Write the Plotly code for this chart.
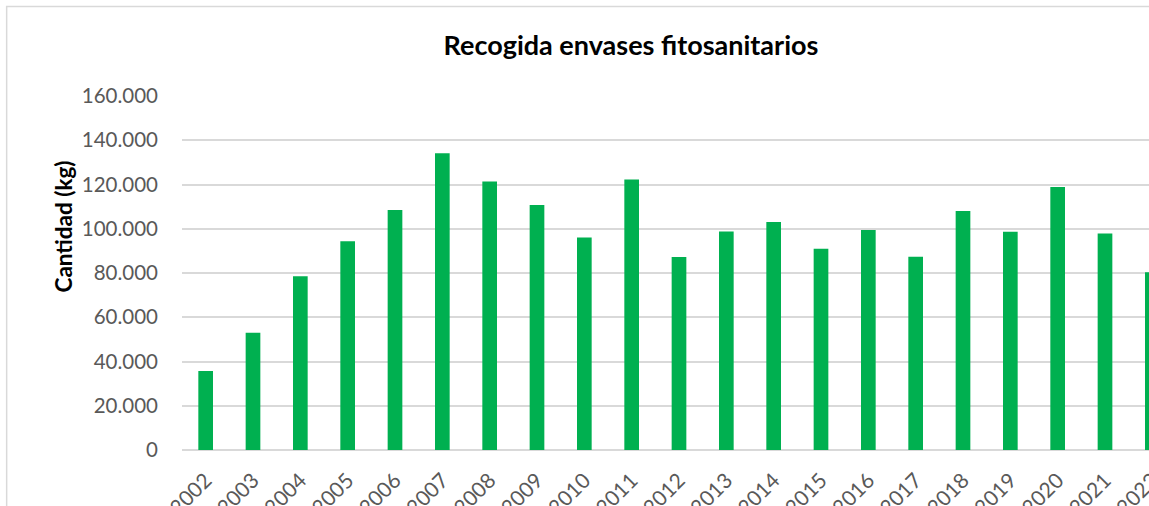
import plotly.graph_objects as go

years = [str(y) for y in range(2002, 2023)]
kg = [35700, 53000, 78500, 94300, 108500, 134100, 121300, 110700, 96100, 122300,
      87200, 98800, 103000, 91000, 99400, 87400, 108000, 98700, 118900, 97900, 80300]
y_ticks = [0, 20000, 40000, 60000, 80000, 100000, 120000, 140000, 160000]
y_tick_text = ["0", "20.000", "40.000", "60.000", "80.000", "100.000", "120.000", "140.000", "160.000"]

FONT = "Lato"
fig = go.Figure()
fig.add_trace(go.Bar(x=years, y=kg, marker=dict(color="#00B050", line=dict(width=0)), width=0.31))

# The chart is wider than the window; the window crops its right side (as in the reference).
fig.update_layout(
    width=1176, height=506,
    margin=dict(l=182, r=0, t=96, b=56, autoexpand=False),
    paper_bgcolor="white", plot_bgcolor="white",
    showlegend=False,
    font=dict(family=FONT, color="#595959"),
    title=dict(text="<b>Recogida envases fitosanitarios</b>", x=0.4517, xref="paper", xanchor="center",
               y=1 - 46 / 506, yref="container", yanchor="middle",
               font=dict(family=FONT, size=27, color="#000000")),
    bargap=0.69,
)
fig.update_xaxes(type="category", range=[-0.5, 20.5], tickangle=-45, automargin=False,
                 tickfont=dict(family=FONT, size=21, color="#595959"),
                 showgrid=False, showline=False, ticks="", zeroline=False, ticklabelstandoff=13)
fig.update_yaxes(range=[0, 160000], tickvals=y_ticks, ticktext=y_tick_text, automargin=False,
                 tickfont=dict(family=FONT, size=20.5, color="#595959"),
                 showgrid=True, gridcolor="#d9d9d9", gridwidth=1.5,
                 zeroline=True, zerolinecolor="#d9d9d9", zerolinewidth=1.5,
                 showline=False, ticks="", ticklabelstandoff=23)
fig.add_annotation(text="<b>Cantidad (kg)</b>", xref="paper", yref="paper",
                   x=-0.1348, y=0.63, textangle=-90, showarrow=False,
                   font=dict(family=FONT, size=22.5, color="#000000"))
fig.add_shape(type="rect", xref="paper", yref="paper", x0=-0.1764, y0=-0.5, x1=1.2, y1=1.2528,
              line=dict(color="#d9d9d9", width=1.5), fillcolor="rgba(0,0,0,0)", layer="below")

fig.write_html("out.html", config={"displayModeBar": False},
               post_script="document.body.style.margin='0';document.body.style.overflow='hidden';")
